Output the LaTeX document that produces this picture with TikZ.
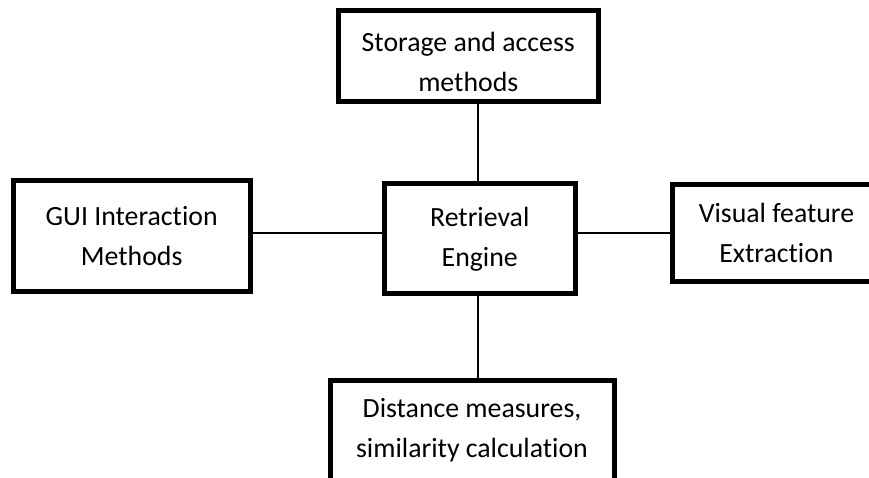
\documentclass[tikz,border=0pt]{standalone}
\usepackage{fontspec}
\setmainfont{Carlito}[Ligatures={NoCommon}]
\begin{document}
\begin{tikzpicture}[x=1pt,y=-1pt,
  box/.style={draw=black, line width=5pt, rectangle, inner sep=0pt, align=center,
    font=\fontsize{27.8}{40}\selectfont, fill=white},
  link/.style={draw=black, line width=2pt}]
\useasboundingbox (0,0) rectangle (869,478);
\clip (0,0) rectangle (869,478);
\fill[white] (0,0) rectangle (869,478);
\node[box, minimum width=259.5pt, minimum height=91pt] (stor) at (468.25,56) {\rule{0pt}{31pt}Storage and access\\methods};
\node[box, minimum width=237.3pt, minimum height=110.5pt] (gui) at (131.65,236.25) {GUI Interaction\\Methods};
\node[box, minimum width=191.5pt, minimum height=109.5pt] (ret) at (479.75,238.75) {Retrieval\\Engine};
\node[box, minimum width=209pt, minimum height=96pt] (vis) at (776.5,233) {Visual feature\\Extraction};
\node[box, minimum width=284pt, minimum height=101pt] (dist) at (472,430.5) {Distance measures,\\similarity calculation};
\coordinate (hy) at (0,233);
\coordinate (vx) at (477.7,0);
\draw[link] (gui.east |- hy) -- (ret.west |- hy);
\draw[link] (ret.east |- hy) -- (vis.west |- hy);
\draw[link] (stor.south -| vx) -- (ret.north -| vx);
\draw[link] (ret.south -| vx) -- (dist.north -| vx);
\end{tikzpicture}
\end{document}
